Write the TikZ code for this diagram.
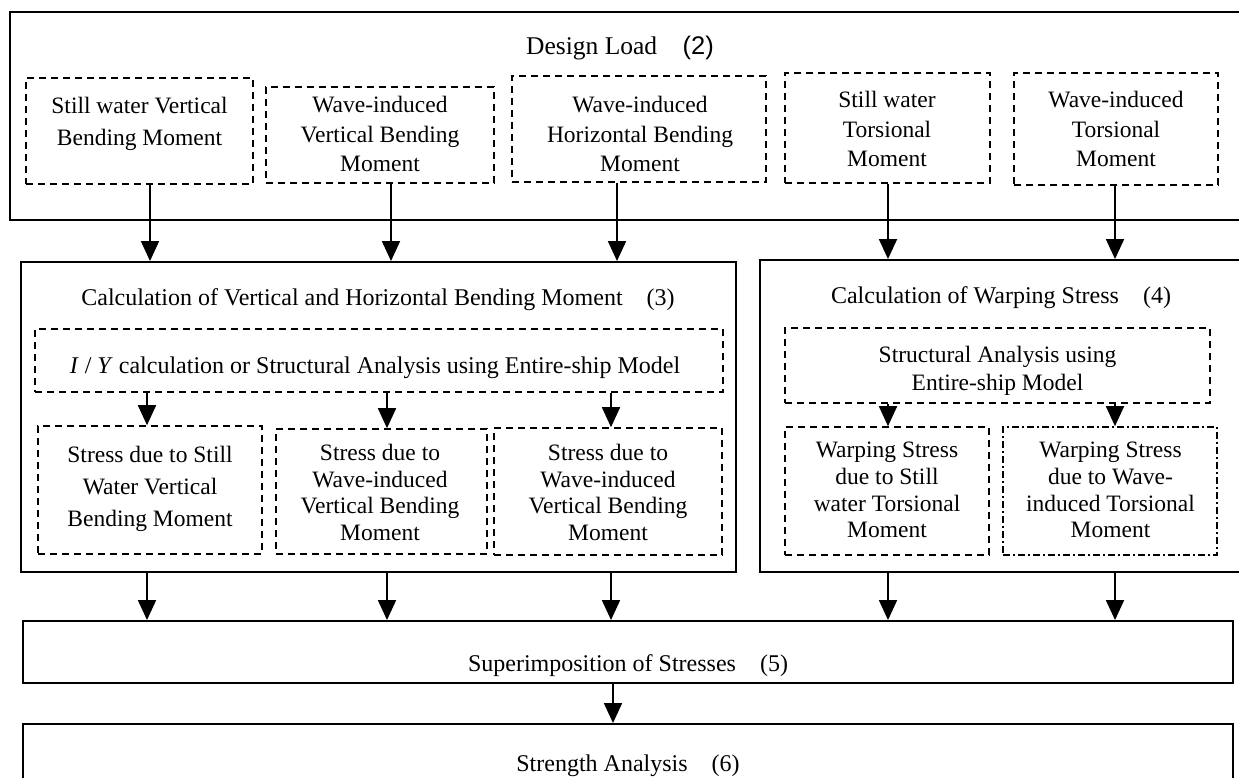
\documentclass[tikz,border=0pt]{standalone}
\usepackage{fontspec}
\setmainfont{Liberation Serif}
\newfontfamily\arialf{Liberation Sans}
\usetikzlibrary{arrows.meta,fit}
\begin{document}
\begin{tikzpicture}[x=1pt,y=-1pt,
  sbox/.style={draw, line width=1.9pt, inner sep=0pt},
  dbox/.style={draw, line width=1.6pt, dash pattern=on 7pt off 5pt, inner sep=0pt},
  ddbox/.style={draw, line width=1.6pt, dash pattern=on 7pt off 3pt on 2pt off 3pt, inner sep=0pt},
  txt/.style={align=center, inner sep=0pt, anchor=north, font=\fontsize{23.5}{#1}\selectfont},
  txt/.default=29.5,
  ltxt/.style={inner sep=0pt, anchor=base, font=\fontsize{24}{28}\selectfont},
  arr/.style={line width=1.8pt, -{Triangle[length=20pt,width=18pt]}}]
\useasboundingbox (0,0) rectangle (1239,778);
\fill[white] (0,0) rectangle (1239,778);
\clip (0,0) rectangle (1239,778);

% Design load
\node[sbox, fit={(10,12) (1260,220)}] (dl) {};
\node[ltxt, font=\fontsize{25.5}{30}\selectfont] (dlt) at (620,55) {Design Load\hspace{1em}{\arialf (2)}};
\node[dbox, fit={(26,78) (253,184)}] (b1) {};
\node[txt=32] (b1t) at (139.5,97) {Still water Vertical\\Bending Moment};
\node[dbox, fit={(266,87) (494,183)}] (b2) {};
\node[txt] (b2t) at (380,96) {Wave-induced\\Vertical Bending\\Moment};
\node[dbox, fit={(512,76) (766,182)}] (b3) {};
\node[txt] (b3t) at (640,96) {Wave-induced\\Horizontal Bending\\Moment};
\node[dbox, fit={(785,73) (990,183)}] (b4) {};
\node[txt] (b4t) at (887,91) {Still water\\Torsional\\Moment};
\node[dbox, fit={(1014,73) (1218,185)}] (b5) {};
\node[txt] (b5t) at (1116,91) {Wave-induced\\Torsional\\Moment};

% Calculation of bending moment
\node[sbox, fit={(21,262) (736,572)}] (c1) {};
\node[ltxt] (c1t) at (378,305) {Calculation of Vertical and Horizontal Bending Moment\hspace{1em}(3)};
\node[dbox, fit={(35,329) (723,392)}] (iy) {};
\node[ltxt] (iyt) at (375,373) {\textit{I} / \textit{Y} calculation or Structural Analysis using Entire-ship Model};
\node[dbox, fit={(38,426) (262,554)}] (s1) {};
\node[txt=32] (s1t) at (150,446) {Stress due to Still\\Water Vertical\\Bending Moment};
\node[dbox, fit={(276,429) (487,554)}] (s2) {};
\node[txt=26.7] (s2t) at (380,444) {Stress due to\\Wave-induced\\Vertical Bending\\Moment};
\node[dbox, fit={(494,428) (722,555)}] (s3) {};
\node[txt=26.7] (s3t) at (608,444) {Stress due to\\Wave-induced\\Vertical Bending\\Moment};

% Calculation of warping stress
\node[sbox, fit={(760,260) (1260,572)}] (c2) {};
\node[ltxt] (c2t) at (1001,303) {Calculation of Warping Stress\hspace{1em}(4)};
\node[dbox, fit={(785,328) (1210,403)}] (st) {};
\node[txt=28] (stt) at (997.5,346) {Structural Analysis using\\Entire-ship Model};
\node[dbox, fit={(785,427) (989,555)}] (w1) {};
\node[txt=26.7] (w1t) at (887,442) {Warping Stress\\due to Still\\water Torsional\\Moment};
\node[ddbox, fit={(1003,427) (1217,555)}] (w2) {};
\node[txt=26.7] (w2t) at (1110.5,442) {Warping Stress\\due to Wave-\\induced Torsional\\Moment};

% Superimposition and strength
\node[sbox, fit={(23,621) (1233,683)}] (sup) {};
\node[ltxt] (supt) at (628,671) {Superimposition of Stresses\hspace{1em}(5)};
\node[sbox, fit={(23,724) (1233,800)}] (str) {};
\node[ltxt] (strt) at (628,771) {Strength Analysis\hspace{1em}(6)};

% x positions of connectors
\coordinate (xa) at (150,0);
\coordinate (xb) at (391,0);
\coordinate (xc) at (617,0);
\coordinate (xd) at (888,0);
\coordinate (xe) at (1115,0);
\coordinate (xf) at (147,0);
\coordinate (xg) at (387,0);
\coordinate (xh) at (611,0);
\coordinate (xi) at (613,0);

\draw[arr] (b1.south -| xa) -- (c1.north -| xa);
\draw[arr] (b2.south -| xb) -- (c1.north -| xb);
\draw[arr] (b3.south -| xc) -- (c1.north -| xc);
\draw[arr] (b4.south -| xd) -- (c2.north -| xd);
\draw[arr] (b5.south -| xe) -- (c2.north -| xe);

\draw[arr] (iy.south -| xf) -- (s1.north -| xf);
\draw[arr] (iy.south -| xg) -- (s2.north -| xg);
\draw[arr] (iy.south -| xh) -- (s3.north -| xh);
\draw[arr] (st.south -| xd) -- (w1.north -| xd);
\draw[arr] (st.south -| xe) -- (w2.north -| xe);

\draw[arr] (c1.south -| xf) -- (sup.north -| xf);
\draw[arr] (c1.south -| xg) -- (sup.north -| xg);
\draw[arr] (c1.south -| xh) -- (sup.north -| xh);
\draw[arr] (c2.south -| xd) -- (sup.north -| xd);
\draw[arr] (c2.south -| xe) -- (sup.north -| xe);

\draw[arr] (sup.south -| xi) -- (str.north -| xi);
\end{tikzpicture}
\end{document}
